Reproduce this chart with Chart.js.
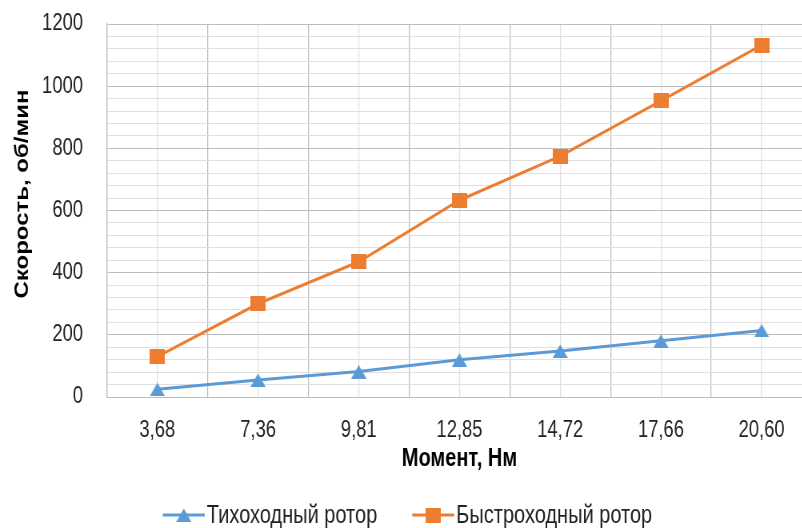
<!DOCTYPE html>
<html>
<head>
<meta charset="utf-8">
<script src="https://cdn.jsdelivr.net/npm/chart.js@4.4.1/dist/chart.umd.min.js"></script>
<style>
  html, body { margin: 0; padding: 0; background: #fff; overflow: hidden; width: 802px; height: 528px; }
  #wrap { position: relative; width: 802px; height: 528px; overflow: hidden; }
  /* narrow type: the drawing is laid out wide and compressed horizontally */
  #c { position: absolute; left: 0; top: 0; transform: scaleX(0.8); transform-origin: 0 0; }
</style>
</head>
<body>
<div id="wrap"><canvas id="c" width="1020" height="528"></canvas></div>
<script>
// Torque values (categories) and rotor speeds, rpm
const torqueLabels = ['3,68', '7,36', '9,81', '12,85', '14,72', '17,66', '20,60'];
const slowRotor = [25, 55, 82, 120, 148, 181, 214];
const fastRotor = [130, 300, 435, 633, 775, 953, 1132];
const seriesNames = ['Тихоходный ротор', 'Быстроходный ротор'];
const xTitle = 'Момент, Нм';
const yTitle = 'Скорость, об/мин';
const yTickStep = 40;
const yLabelStep = 200;

const SX = 0.8;                 // horizontal compression applied to the canvas
const BLUE = '#5B9BD5';
const ORANGE = '#ED7D31';
const GRID_MAJOR = '#BDBDBD';
const GRID_MINOR = '#E0E0E0';
const TEXT = '#222';
const FONT = "'Liberation Sans', Arial, sans-serif";

// Marker bitmaps, pre-widened so they look square after compression
function marker(color, shape) {
  const w = 19, h = shape === 'triangle' ? 14 : 15;
  const cv = document.createElement('canvas');
  cv.width = w; cv.height = h;
  const g = cv.getContext('2d');
  g.fillStyle = color;
  if (shape === 'triangle') {
    g.beginPath(); g.moveTo(w / 2, 0.5); g.lineTo(w, h); g.lineTo(0, h); g.closePath(); g.fill();
  } else {
    g.fillRect(0, 0, w, h);
  }
  return cv;
}
const markers = [marker(BLUE, 'triangle'), marker(ORANGE, 'rect')];

// Legend (line + marker + name) and the vertical axis title
const extras = {
  id: 'extras',
  afterDraw(chart) {
    const ctx = chart.ctx;
    ctx.save();
    ctx.font = `bold 24px ${FONT}`;
    ctx.fillStyle = '#000';
    ctx.textAlign = 'center';
    ctx.textBaseline = 'middle';
    ctx.translate(28, 194);
    ctx.rotate(-Math.PI / 2);
    ctx.fillText(yTitle, 0, 0);
    ctx.restore();

    ctx.save();
    ctx.font = `25px ${FONT}`;
    const lineLen = 52.5, gapText = 2.5, gapItem = 43.75;
    const ds = chart.data.datasets;
    const widths = ds.map(d => ctx.measureText(d.label).width);
    let total = 0;
    widths.forEach((w, i) => { total += lineLen + gapText + w + (i ? gapItem : 0); });
    let x = 509.4 - total / 2;
    const y = 515;
    ds.forEach((d, i) => {
      ctx.strokeStyle = d.borderColor; ctx.lineWidth = 3;
      ctx.beginPath(); ctx.moveTo(x, y); ctx.lineTo(x + lineLen, y); ctx.stroke();
      const m = markers[i];
      ctx.drawImage(m, x + lineLen / 2 - m.width / 2, y - m.height / 2);
      ctx.fillStyle = TEXT; ctx.textAlign = 'left'; ctx.textBaseline = 'middle';
      ctx.fillText(d.label, x + lineLen + gapText, y + 1);
      x += lineLen + gapText + widths[i] + gapItem;
    });
    ctx.restore();
  }
};

new Chart(document.getElementById('c'), {
  type: 'line',
  data: {
    labels: torqueLabels,
    datasets: [
      {
        label: seriesNames[0], data: slowRotor,
        borderColor: BLUE, backgroundColor: BLUE, borderWidth: 3,
        pointStyle: markers[0], pointRadius: 8, pointHoverRadius: 8, tension: 0
      },
      {
        label: seriesNames[1], data: fastRotor,
        borderColor: ORANGE, backgroundColor: ORANGE, borderWidth: 3,
        pointStyle: markers[1], pointRadius: 8, pointHoverRadius: 8, tension: 0
      }
    ]
  },
  plugins: [extras],
  options: {
    responsive: false,
    animation: false,
    layout: { autoPadding: false, padding: { left: 0, right: 5, top: 24, bottom: 31 } },
    plugins: {
      tooltip: { enabled: false },
      legend: { display: false }
    },
    scales: {
      x: {
        offset: true,
        grid: { offset: true, color: GRID_MAJOR, lineWidth: 1 / SX, drawTicks: false },
        border: { color: GRID_MAJOR, width: 1 },
        ticks: { color: TEXT, padding: 20, font: { family: FONT, size: 23 } },
        title: {
          display: true, text: xTitle, color: '#000',
          font: { family: FONT, size: 25, weight: 'bold' },
          padding: { top: 0, bottom: 23 }
        },
        afterFit: s => { s.height = 100; s.paddingLeft = 0; s.paddingRight = 0; }
      },
      x2: {
        type: 'category', labels: torqueLabels, position: 'bottom',
        offset: true,
        grid: { offset: false, color: GRID_MINOR, lineWidth: 1 / SX, drawTicks: false },
        border: { display: false },
        ticks: { display: false },
        afterFit: s => { s.height = 0; s.paddingLeft = 0; s.paddingRight = 0; }
      },
      y: {
        min: 0, max: 1200,
        grid: {
          drawTicks: false,
          color: c => (c.tick && c.tick.value % yLabelStep === 0) ? GRID_MAJOR : GRID_MINOR
        },
        border: { color: GRID_MAJOR, width: 1 / SX },
        ticks: {
          stepSize: yTickStep, autoSkip: false, padding: 30, color: TEXT,
          font: { family: FONT, size: 23 },
          callback: v => (v % yLabelStep === 0 ? String(v) : '')
        },
        afterFit: s => { s.width = 107 / SX; s.paddingTop = 0; s.paddingBottom = 0; }
      }
    }
  }
});
</script>
</body>
</html>
